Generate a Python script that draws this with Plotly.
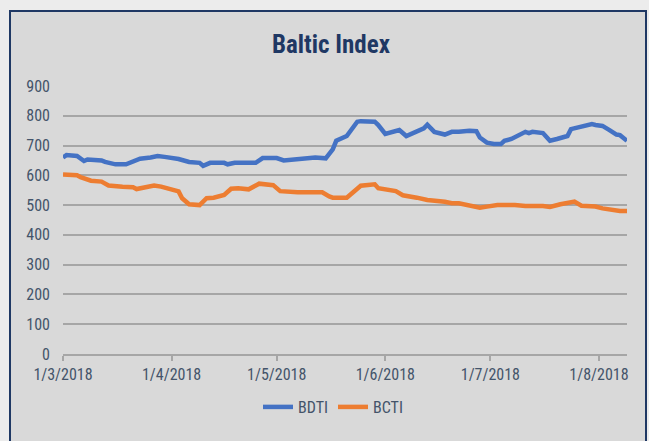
import plotly.graph_objects as go

# ---- data ----
bdti_dates = ["2018-03-01", "2018-03-02", "2018-03-05", "2018-03-07", "2018-03-08", "2018-03-12",
              "2018-03-13", "2018-03-16", "2018-03-19", "2018-03-21", "2018-03-23", "2018-03-26",
              "2018-03-28", "2018-03-30", "2018-04-03", "2018-04-06", "2018-04-09", "2018-04-10",
              "2018-04-12", "2018-04-16", "2018-04-17", "2018-04-19", "2018-04-25", "2018-04-27",
              "2018-05-01", "2018-05-03", "2018-05-07", "2018-05-11", "2018-05-12", "2018-05-15",
              "2018-05-17", "2018-05-18", "2018-05-21", "2018-05-24", "2018-05-25", "2018-05-29",
              "2018-05-30", "2018-06-01", "2018-06-05", "2018-06-07", "2018-06-11", "2018-06-12",
              "2018-06-13", "2018-06-15", "2018-06-18", "2018-06-20", "2018-06-22", "2018-06-25",
              "2018-06-27", "2018-06-28", "2018-06-30", "2018-07-02", "2018-07-04", "2018-07-05",
              "2018-07-07", "2018-07-10", "2018-07-11", "2018-07-12", "2018-07-13", "2018-07-16",
              "2018-07-18", "2018-07-20", "2018-07-23", "2018-07-24", "2018-07-27", "2018-07-30",
              "2018-07-31", "2018-08-02", "2018-08-04", "2018-08-06", "2018-08-07", "2018-08-09"]
bdti_values = [660, 668, 665, 648, 653, 650,
               645, 637, 637, 648, 656, 660,
               665, 662, 655, 645, 642, 632,
               642, 642, 637, 642, 642, 658,
               658, 650, 655, 657, 660, 657,
               687, 716, 732, 780, 782, 780,
               769, 739, 752, 732, 750, 758,
               770, 746, 737, 746, 746, 750,
               748, 727, 710, 705, 705, 716,
               722, 737, 746, 742, 746, 742,
               716, 722, 732, 755, 764, 772,
               769, 766, 752, 737, 735, 716]

bcti_dates = ["2018-03-01", "2018-03-05", "2018-03-06", "2018-03-09", "2018-03-12", "2018-03-14",
              "2018-03-18", "2018-03-21", "2018-03-22", "2018-03-24", "2018-03-27", "2018-03-29",
              "2018-04-02", "2018-04-03", "2018-04-04", "2018-04-06", "2018-04-09", "2018-04-11",
              "2018-04-13", "2018-04-16", "2018-04-18", "2018-04-20", "2018-04-23", "2018-04-26",
              "2018-04-30", "2018-05-02", "2018-05-07", "2018-05-11", "2018-05-14", "2018-05-16",
              "2018-05-17", "2018-05-21", "2018-05-24", "2018-05-25", "2018-05-29", "2018-05-30",
              "2018-06-04", "2018-06-06", "2018-06-10", "2018-06-13", "2018-06-18", "2018-06-20",
              "2018-06-22", "2018-06-25", "2018-06-28", "2018-06-30", "2018-07-03", "2018-07-08",
              "2018-07-11", "2018-07-16", "2018-07-18", "2018-07-21", "2018-07-25", "2018-07-27",
              "2018-07-31", "2018-08-02", "2018-08-04", "2018-08-07", "2018-08-09"]
bcti_values = [603, 600, 594, 582, 579, 566,
               562, 560, 554, 560, 566, 562,
               550, 546, 523, 503, 500, 523,
               525, 534, 555, 557, 553, 572,
               567, 547, 543, 542, 543, 529,
               525, 525, 558, 565, 570, 557,
               547, 533, 525, 517, 511, 506,
               506, 500, 491, 495, 500, 500,
               497, 497, 494, 503, 512, 498,
               495, 489, 484, 480, 480]

title_text = "Baltic Index"
series_names = ["BDTI", "BCTI"]
series_colors = ["#4472c4", "#ed7d31"]
y_ticks = [0, 100, 200, 300, 400, 500, 600, 700, 800, 900]

FONT = "Liberation Sans Narrow, Roboto Condensed, Arial Narrow, sans-serif"
TXT = "#44546a"

fig = go.Figure()
fig.add_trace(go.Scatter(x=bdti_dates, y=bdti_values, mode="lines", name=series_names[0],
                         line=dict(color=series_colors[0], width=4.5)))
fig.add_trace(go.Scatter(x=bcti_dates, y=bcti_values, mode="lines", name=series_names[1],
                         line=dict(color=series_colors[1], width=4.5)))

# plot area: x 63..627 px, y 86..354 px
L, R, T, B = 63, 22, 86, 87
W, H = 649 - L - R, 441 - T - B

def px_x(p):
    return (p - L) / W

def px_y(p):
    return (441 - B - p) / H

fig.add_shape(type="rect", xref="paper", yref="paper",
              x0=px_x(10), x1=px_x(646), y0=px_y(450), y1=px_y(11),
              fillcolor="#d9d9d9", line=dict(color="#1f3864", width=2), layer="below")

fig.update_layout(
    width=649, height=441,
    margin=dict(l=L, r=R, t=T, b=B),
    paper_bgcolor="#ececec",
    plot_bgcolor="rgba(0,0,0,0)",
    font=dict(family=FONT, color=TXT, size=16),
    title=dict(text="<b>" + title_text + "</b>", x=px_x(331), xanchor="center", xref="paper",
               y=1 - 44 / 441, yanchor="middle",
               font=dict(family=FONT, size=25, color="#1f3864")),
    showlegend=True,
    legend=dict(orientation="h", x=px_x(333), xanchor="center", y=px_y(407), yanchor="middle",
                font=dict(family=FONT, size=16, color=TXT), bgcolor="rgba(0,0,0,0)",
                tracegroupgap=0),
    xaxis=dict(type="date", range=["2018-03-01", "2018-08-09"],
               tick0="2018-03-01", dtick="M1", tickformat="%-d/%-m/%Y",
               showgrid=False, showline=True, linecolor="#a6a6a6", linewidth=1.5,
               ticks="outside", ticklen=5, tickcolor="#a6a6a6", tickwidth=1.5,
               zeroline=False, tickfont=dict(size=16, color=TXT)),
    yaxis=dict(range=[0, 900], tickvals=y_ticks, showgrid=True, gridcolor="#a6a6a6",
               gridwidth=1.5, zeroline=False, showline=False, ticks="",
               ticklabelstandoff=12, tickfont=dict(size=16, color=TXT)),
)

fig.write_html("out.html", config={"displayModeBar": False},
               post_script="document.body.style.margin='0px';document.body.style.overflow='hidden';")
